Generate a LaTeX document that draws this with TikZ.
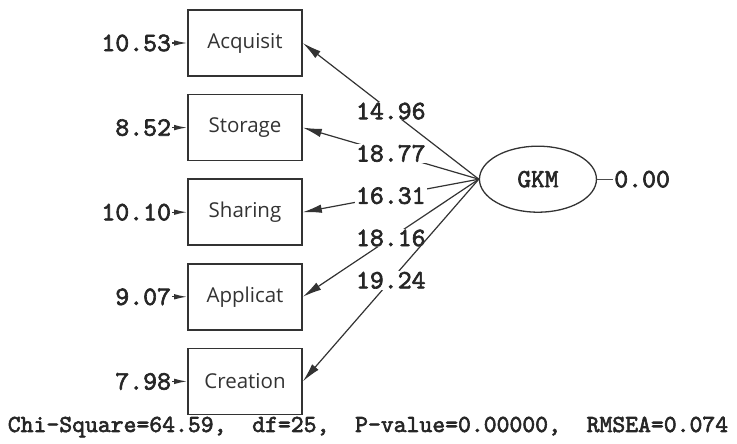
\documentclass[tikz,border=0pt]{standalone}
\usepackage{fontspec}
\setmainfont{Open Sans}
\newfontfamily\lisrelfont{lmmono10-regular.otf}[FakeBold=2.4]
\usetikzlibrary{positioning, shapes.geometric, arrows.meta}

\tikzset{
	observed/.style={rectangle, draw=black!80, line width=1.6pt, minimum width=114pt, minimum height=66pt, inner sep=0pt, text=black!80, font=\fontsize{20.5}{24}\selectfont},
	latent/.style={ellipse, draw=black!80, line width=1.3pt, minimum width=117pt, minimum height=66pt, inner sep=0pt, text=black!85, font=\fontsize{26}{30}\selectfont\lisrelfont},
	errlabel/.style={inner sep=1pt, text=black!85, font=\fontsize{26.5}{30}\selectfont\lisrelfont},
	coef/.style={fill=white, inner sep=1pt, text=black!85, font=\fontsize{26.5}{30}\selectfont\lisrelfont},
	loading/.style={->, >={Latex[length=19pt,width=8.5pt]}, line width=1.2pt, draw=black!80},
	errarrow/.style={->, >={Latex[length=13pt,width=5.5pt]}, line width=1.3pt, draw=black!80},
}

\begin{document}
\begin{tikzpicture}[x=1pt, y=1pt, node distance=17pt]
	\useasboundingbox (0,0) rectangle (737,444);
	% indicators
	\node[observed] (Acquisit) at (245,401) {Acquisit};
	\node[observed, below=of Acquisit] (Storage) {Storage};
	\node[observed, below=of Storage] (Sharing) {Sharing};
	\node[observed, below=of Sharing] (Applicat) {Applicat};
	\node[observed, below=of Applicat] (Creation) {Creation};
	% error variances
	\node[errlabel, left=15pt of Acquisit] (eA) {10.53};
	\node[errlabel, left=15pt of Storage] (eS) {8.52};
	\node[errlabel, left=15pt of Sharing] (eH) {10.10};
	\node[errlabel, left=15pt of Applicat] (eP) {9.07};
	\node[errlabel, left=15pt of Creation] (eC) {7.98};
	\draw[errarrow] (eA) -- (Acquisit);
	\draw[errarrow] (eS) -- (Storage);
	\draw[errarrow] (eH) -- (Sharing);
	\draw[errarrow] (eP) -- (Applicat);
	\draw[errarrow] (eC) -- (Creation);
	% latent factor
	\node[latent, right=176pt of Sharing, yshift=33pt] (GKM) {GKM};
	\node[errlabel, right=16pt of GKM] (eG) {0.00};
	\draw[line width=1pt, draw=black!70] (GKM) -- (eG);
	% loadings
	\draw[loading] (GKM.west) -- node[coef] {14.96} (Acquisit.east);
	\draw[loading] (GKM.west) -- node[coef] {18.77} (Storage.east);
	\draw[loading] (GKM.west) -- node[coef] {16.31} (Sharing.east);
	\draw[loading] (GKM.west) -- node[coef] {18.16} (Applicat.east);
	\draw[loading] (GKM.west) -- node[coef] {19.24} (Creation.east);
	% fit indices
	\node[anchor=base, inner sep=0pt, text=black!85, font=\fontsize{24.5}{28}\selectfont\lisrelfont] (fit) at (368,12) {Chi-Square=64.59,\ \ df=25,\ \ P-value=0.00000,\ \ RMSEA=0.074};
\end{tikzpicture}
\end{document}
